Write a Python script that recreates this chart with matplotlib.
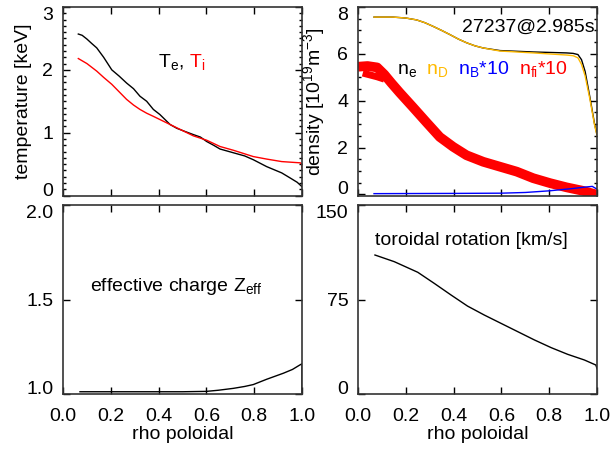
import numpy as np
import matplotlib
matplotlib.use('Agg')
import matplotlib.pyplot as plt

plt.rcParams['font.family'] = ['Liberation Sans', 'DejaVu Sans']
plt.rcParams['mathtext.fontset'] = 'custom'
plt.rcParams['mathtext.rm'] = 'Liberation Sans'
plt.rcParams['mathtext.it'] = 'Liberation Sans:italic'
plt.rcParams['mathtext.default'] = 'regular'
plt.rcParams['font.size'] = 14

# ---- data ----
# electron / ion temperature [keV]
rho_te = [0.064, 0.08, 0.10, 0.12, 0.141, 0.17, 0.204, 0.235, 0.266, 0.295, 0.322,
          0.35, 0.378, 0.405, 0.448, 0.476, 0.51, 0.545, 0.575, 0.601, 0.63, 0.657,
          0.713, 0.76, 0.796, 0.852, 0.915, 0.95, 0.98, 1.0]
te = [2.57, 2.55, 2.49, 2.42, 2.35, 2.20, 2.00, 1.90, 1.79, 1.70, 1.58,
      1.50, 1.37, 1.29, 1.13, 1.07, 1.02, 0.97, 0.93, 0.86, 0.80, 0.74,
      0.68, 0.63, 0.57, 0.46, 0.36, 0.28, 0.21, 0.14]
rho_ti = [0.064, 0.10, 0.141, 0.17, 0.204, 0.235, 0.266, 0.295, 0.322, 0.35, 0.378,
          0.448, 0.545, 0.601, 0.657, 0.713, 0.796, 0.852, 0.915, 0.993, 0.999, 1.0]
ti = [2.18, 2.10, 1.98, 1.88, 1.77, 1.65, 1.53, 1.44, 1.37, 1.31, 1.26,
      1.13, 0.95, 0.88, 0.78, 0.72, 0.62, 0.58, 0.54, 0.52, 0.50, 0.44]

# densities [1e19 m^-3]
rho_n = [0.067, 0.146, 0.20, 0.245, 0.28, 0.315, 0.35, 0.385, 0.42, 0.455, 0.49, 0.524,
         0.594, 0.733, 0.872, 0.90, 0.92, 0.935, 0.95, 0.97, 0.99, 1.0]
n_e = [7.57, 7.57, 7.53, 7.45, 7.33, 7.17, 7.00, 6.82, 6.63, 6.47, 6.34, 6.25,
       6.14, 6.08, 6.04, 6.02, 5.97, 5.75, 5.25, 4.15, 2.98, 2.55]
n_d = [7.57, 7.57, 7.53, 7.45, 7.33, 7.17, 7.00, 6.82, 6.63, 6.47, 6.34, 6.25,
       6.12, 6.04, 5.95, 5.92, 5.83, 5.55, 5.06, 4.07, 2.94, 2.50]
rho_nb = [0.067, 0.4, 0.6, 0.7, 0.8, 0.9, 0.95, 0.98, 1.0]
n_b10 = [0.03, 0.04, 0.05, 0.08, 0.15, 0.25, 0.31, 0.34, 0.22]
rho_nfi = [0.0, 0.04, 0.08, 0.11, 0.14, 0.174, 0.23, 0.286, 0.342, 0.398, 0.454,
           0.524, 0.594, 0.664, 0.733, 0.803, 0.872, 0.941, 1.0]
n_fi10 = [5.45, 5.48, 5.42, 5.12, 4.75, 4.35, 3.72, 3.08, 2.45, 2.03, 1.67,
          1.39, 1.18, 0.97, 0.69, 0.48, 0.30, 0.15, -0.02]
rho_nfi_b = [0.02, 0.05, 0.08, 0.11]
n_fi10_b = [5.18, 5.10, 5.02, 4.92]

# effective charge
rho_z = [0.071, 0.3, 0.5, 0.6, 0.65, 0.713, 0.76, 0.796, 0.852, 0.922, 0.96, 0.99, 1.0, 1.0]
zeff = [1.012, 1.012, 1.012, 1.014, 1.02, 1.03, 1.04, 1.05, 1.078, 1.11, 1.13, 1.153, 1.16, 1.0]

# toroidal rotation [km/s]
rho_v = [0.071, 0.152, 0.25, 0.319, 0.389, 0.458, 0.528, 0.598, 0.668, 0.738,
         0.808, 0.877, 0.947, 0.995, 1.0]
vtor = [110.3, 105.0, 96.6, 87.8, 78.6, 69.8, 62.7, 56.1, 49.5, 42.9,
        36.8, 31.5, 27.0, 23.0, 20.0]

xticks = [0.0, 0.2, 0.4, 0.6, 0.8, 1.0]
orange = '#FFBA00'

fig = plt.figure(figsize=(6.13, 4.53), dpi=100)
ax_te = fig.add_axes([0.1028, 0.5684, 0.3899, 0.4161])
ax_n = fig.add_axes([0.584, 0.5684, 0.390, 0.4161])
ax_z = fig.add_axes([0.1028, 0.1302, 0.3899, 0.4173])
ax_v = fig.add_axes([0.584, 0.1302, 0.390, 0.4173])


def style(ax, yticks, ylim, minor=None, xlabels=False):
    ax.set_xlim(0, 1)
    ax.set_ylim(*ylim)
    ax.set_xticks(xticks)
    ax.set_yticks(yticks)
    if minor is not None:
        ax.set_yticks(minor, minor=True)
    ax.tick_params(which='both', direction='in', top=True, right=True, width=1)
    ax.tick_params(which='major', length=5, pad=7)
    ax.tick_params(which='minor', length=2.5)
    ax.tick_params(axis='x', pad=10)
    for sp in ax.spines.values():
        sp.set_linewidth(1.2)
        sp.set_color('0.2')
    if xlabels:
        ax.set_xticklabels(['%.1f' % v for v in xticks])
        ax.set_xlabel('rho poloidal')
        ax.xaxis.set_label_coords(0.5, -0.17)
    else:
        ax.set_xticklabels([])
    labs = ax.get_yticklabels()
    labs[0].set_va('baseline')
    labs[-1].set_va('top')


# temperatures
ax_te.plot(rho_te, te, color='black', lw=1)
ax_te.plot(rho_ti, ti, color='red', lw=1)
style(ax_te, [0, 1, 2, 3], (0, 3), minor=np.arange(0, 3.01, 0.1))
ax_te.set_yticklabels(['0', '1', '2', '3'])
ax_te.set_ylabel('temperature [keV]')
ax_te.yaxis.set_label_coords(-0.13, 0.5)
t1 = ax_te.text(0.397, 2.05, 'T$_e$,', color='black', va='baseline')
ax_te.annotate('T$_i$', xy=(1, 0), xycoords=t1, xytext=(4, 0),
               textcoords='offset points', color='red', va='bottom')

# densities
ax_n.plot(rho_nfi, n_fi10, color='red', lw=7, solid_capstyle='butt')
ax_n.plot(rho_nfi_b, n_fi10_b, color='red', lw=5, solid_capstyle='butt')
ax_n.plot(rho_n, n_e, color='black', lw=1)
ax_n.plot(rho_n, n_d, color=orange, lw=1)
ax_n.plot(rho_nb, n_b10, color='blue', lw=1)
style(ax_n, [0, 2, 4, 6, 8], (-0.05, 8), minor=np.arange(0, 8.01, 0.5))
ax_n.set_yticklabels(['0', '2', '4', '6', '8'])
ax_n.set_ylabel('density [10$^{19}$m$^{-3}$]')
ax_n.yaxis.set_label_coords(-0.13, 0.5)
ax_n.text(0.99, 6.96, '27237@2.985s', ha='right', va='baseline')
prev = ax_n.text(0.162, 5.13, 'n$_e$', color='black', va='baseline')
for s, c in [('n$_D$', orange), ('n$_B$*10', 'blue'), ('n$_{fi}$*10', 'red')]:
    prev = ax_n.annotate(s, xy=(1, 0), xycoords=prev, xytext=(7, 0),
                         textcoords='offset points', color=c, va='bottom')

# effective charge
ax_z.plot(rho_z, zeff, color='black', lw=1)
style(ax_z, [1.0, 1.5, 2.0], (1.0, 2.0), xlabels=True)
ax_z.set_yticklabels(['1.0', '1.5', '2.0'])
ax_z.text(0.114, 1.547, 'effective charge Z$_{eff}$', va='baseline')

# toroidal rotation
ax_v.plot(rho_v, vtor, color='black', lw=1)
style(ax_v, [0, 75, 150], (0, 150), xlabels=True)
ax_v.set_yticklabels(['0', '75', '150'])
ax_v.text(0.071, 118, 'toroidal rotation [km/s]', va='baseline')

fig.savefig('out.png', dpi=100)
